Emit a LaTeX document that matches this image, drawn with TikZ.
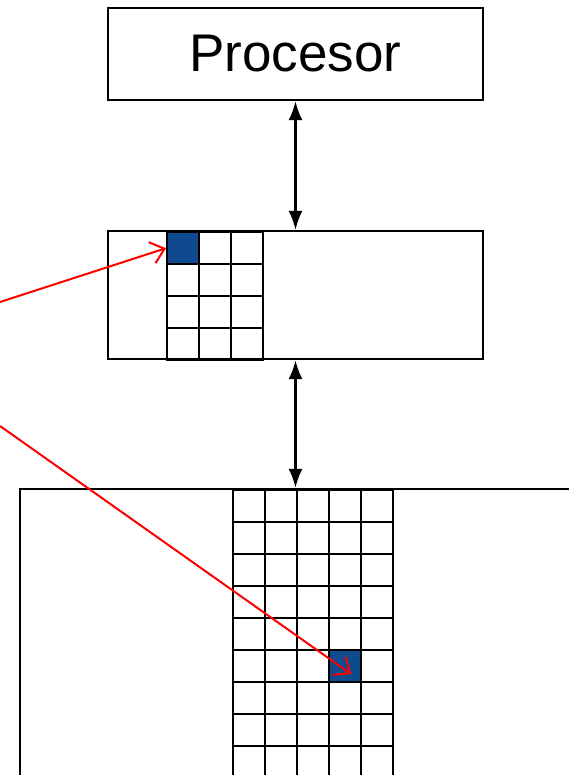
\documentclass[tikz,border=0pt]{standalone}
\usepackage{fontspec}
\setmainfont{Liberation Sans}
\usetikzlibrary{arrows.meta, positioning}
\definecolor{cellblue}{HTML}{104A8E}

\begin{document}
\begin{tikzpicture}[x=1pt,y=-1pt,line width=2.4pt,
    box/.style={draw, rectangle, inner sep=0pt},
    cell/.style={draw, rectangle, minimum size=32pt, inner sep=0pt, anchor=north west},
    bus/.style={{Latex[length=19pt,width=14pt]}-{Latex[length=19pt,width=14pt]}, line width=2.2pt},
    pointer/.style={-{Straight Barb[length=13pt,width=22pt]}, red, line width=2pt}]
    \useasboundingbox (0,0) rectangle (568,775);

    \node[box, minimum width=375pt, minimum height=92pt] (cpu) at (295.5,54) {\fontsize{53}{60}\selectfont Procesor\hspace{10pt}};
    \node[box, minimum width=375pt, minimum height=128pt] (cache) at (295.5,295) {};
    \node[box, minimum width=590pt, minimum height=320pt] (mem) at (315,649) {};

    % cache lines
    \foreach \r in {0,...,3}
        \foreach \c in {0,1,2}
            \node[cell] (l-\r-\c) at (166+32*\c,231+32*\r) {};
    \node[cell, fill=cellblue] (line) at (166,231) {};

    % memory blocks
    \foreach \r in {0,...,9}
        \foreach \c in {0,...,4}
            \node[cell] (m-\r-\c) at (232+32*\c,489+32*\r) {};
    \node[cell, fill=cellblue] (block) at (328,649) {};

    \coordinate (src1) at (0,302);
    \coordinate (src2) at (0,426);

    \draw[bus] (cpu.south) -- (cache.north);
    \draw[bus] (cache.south) -- (cache.south |- mem.north);
    \draw[pointer] (src1) -- (line.west);
    \draw[pointer] (src2) -- ([shift={(6,8)}]block.center);
\end{tikzpicture}
\end{document}
